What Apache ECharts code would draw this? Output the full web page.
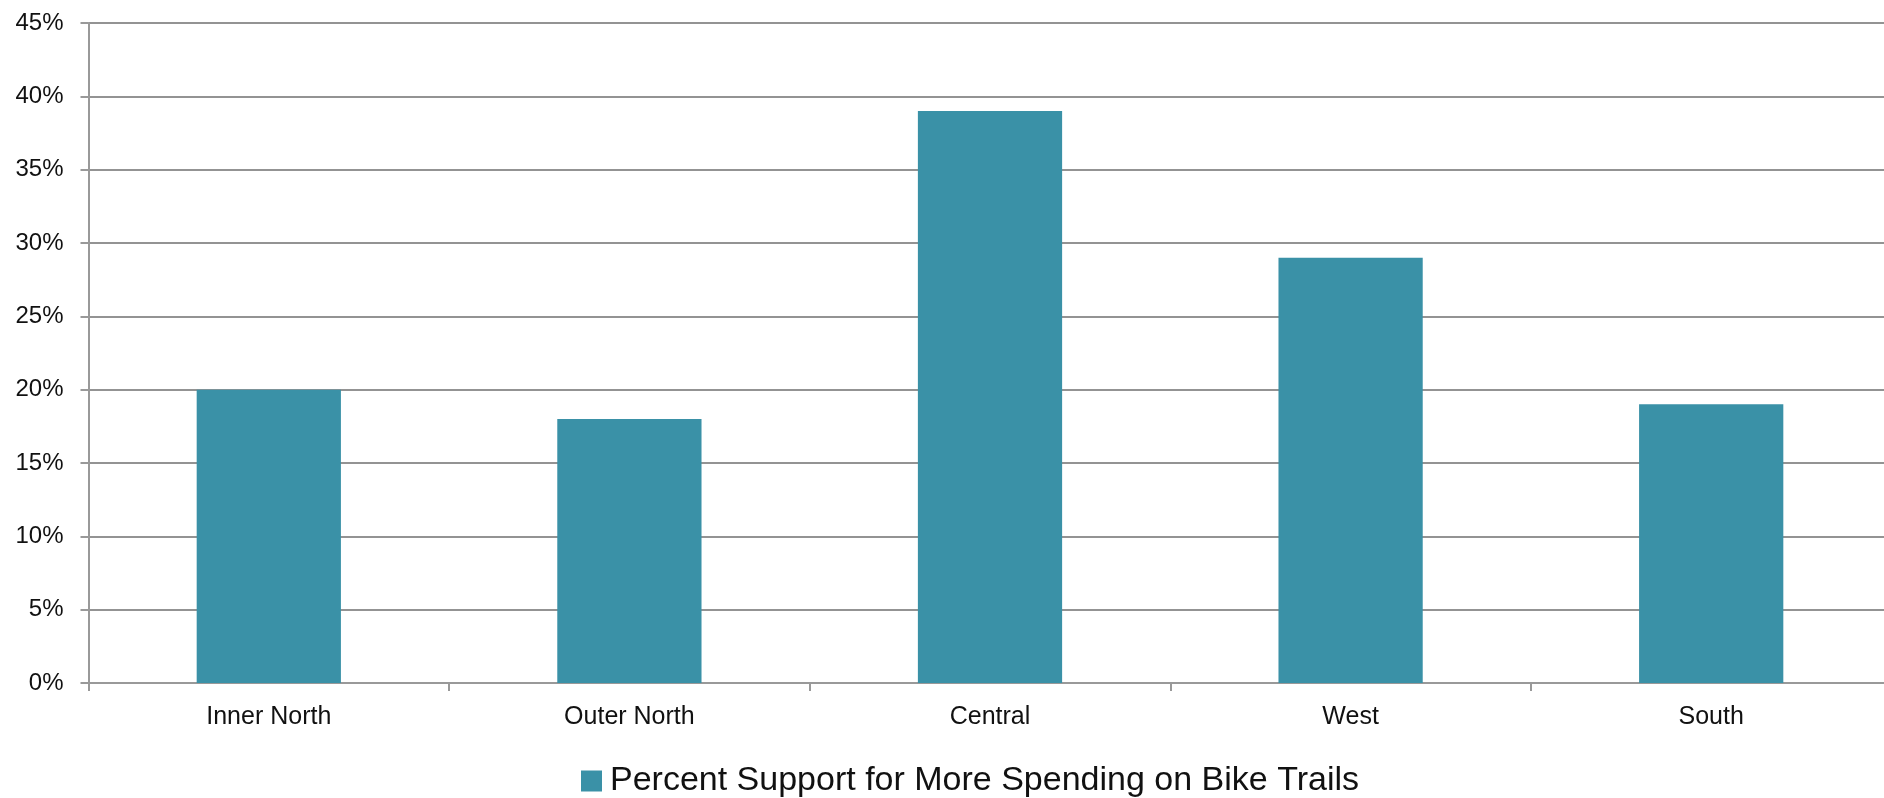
<!DOCTYPE html>
<html>
<head>
<meta charset="utf-8">
<script src="https://cdn.jsdelivr.net/npm/echarts@6/dist/echarts.min.js"></script>
<style>
html,body{margin:0;padding:0;background:#fff;}
#chart{width:1884px;height:798px;}
</style>
</head>
<body>
<div id="chart"></div>
<script>
const categories = ['Inner North', 'Outer North', 'Central', 'West', 'South'];
const seriesName = 'Percent Support for More Spending on Bike Trails';
const supportValues = [20, 18, 39, 29, 19];
const yTicks = [0, 5, 10, 15, 20, 25, 30, 35, 40, 45];

const chart = echarts.init(document.getElementById('chart'), null, {renderer: 'canvas'});
const font = 'Liberation Sans, Arial, sans-serif';
const option = {
  animation: false,
  backgroundColor: '#ffffff',
  grid: {left: 88.5, top: 23, width: 1803, bottom: 115, containLabel: false, outerBoundsMode: 'none'},
  legend: {
    data: [seriesName],
    left: 576,
    top: 759,
    itemWidth: 21,
    itemHeight: 21,
    icon: 'rect',
    textStyle: {fontFamily: font, fontSize: 34, color: '#111', padding: [0, 0, 0, 3]}
  },
  xAxis: {
    type: 'category',
    data: categories,
    axisLine: {show: true, lineStyle: {color: '#999', width: 2}},
    axisTick: {show: true, length: 8, lineStyle: {color: '#999', width: 2}},
    axisLabel: {fontFamily: font, fontSize: 25, color: '#111', margin: 22}
  },
  yAxis: {
    type: 'value',
    min: yTicks[0],
    max: yTicks[yTicks.length - 1],
    interval: 5,
    axisLine: {show: true, lineStyle: {color: '#999', width: 2}},
    axisTick: {show: true, length: 8, lineStyle: {color: '#999', width: 2}},
    axisLabel: {fontFamily: font, fontSize: 24, color: '#111', margin: 25, formatter: v => v + '%'},
    splitLine: {show: true, lineStyle: {color: '#939393', width: 2}}
  },
  series: [{
    name: seriesName,
    type: 'bar',
    data: supportValues,
    barWidth: '40%',
    itemStyle: {color: '#3a91a7'}
  }]
};
chart.setOption(option);
</script>
</body>
</html>
